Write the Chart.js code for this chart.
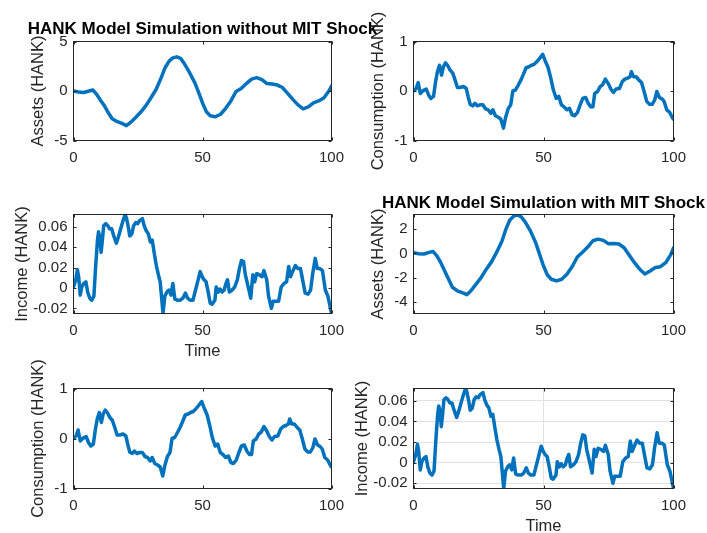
<!DOCTYPE html>
<html>
<head>
<meta charset="utf-8">
<title>HANK Model Simulation</title>
<script src="https://cdn.jsdelivr.net/npm/chart.js"></script>
<style>
  html, body { margin: 0; padding: 0; background: #fff; }
  #fig { position: relative; width: 707px; height: 533px; overflow: hidden; }
  #fig canvas { position: absolute; left: 0; top: 0; }
</style>
</head>
<body>
<div id="fig"></div>
<script>
// ---- tick labels ----
const timeTicks = [0, 50, 100];
const assetTicksNoShock = [-5, 0, 5];
const assetTicksShock = [-4, -2, 0, 2];
const consTicks = [-1, 0, 1];
const incTicks = [-0.02, 0, 0.02, 0.04, 0.06];

// ---- assets (smooth path) ----
const assetT = [
  0, 2, 4, 6, 7.5, 9, 10.5, 12, 13.5, 15,
  17, 19, 20.5, 22, 24, 26, 28, 30, 32, 34,
  35.5, 37, 38.5, 40, 41.5, 43, 45, 47, 48.5, 50,
  51.5, 53, 55, 57, 59, 61, 63, 65, 67, 69,
  71, 73, 75, 77, 79, 81, 83, 85, 87, 89,
  91, 93, 95, 97, 99, 100
];
const assetsNoShock = [
  0, -0.1, -0.15, 0, 0.1, -0.35, -0.95, -1.5, -2.2, -2.8,
  -3.1, -3.3, -3.5, -3.2, -2.7, -2.15, -1.5, -0.7, 0.15, 1.35,
  2.35, 3.0, 3.35, 3.45, 3.3, 2.75, 1.85, 0.85, -0.15, -1.2,
  -2.1, -2.5, -2.6, -2.35, -1.75, -1.0, -0.05, 0.25, 0.75, 1.2,
  1.35, 1.15, 0.75, 0.7, 0.6, 0.35, -0.25, -0.85, -1.4, -1.8,
  -1.6, -1.2, -1.0, -0.7, 0, 0.5
];
const assetsShock = [
  0.05, -0.03, -0.05, 0.08, 0.16, -0.2, -0.77, -1.45, -2.13, -2.8,
  -3.1, -3.25, -3.4, -3.1, -2.55, -2.0, -1.3, -0.7, 0.1, 1.0,
  1.97, 2.73, 3.06, 3.17, 3.0, 2.57, 1.83, 0.87, -0.08, -1.04,
  -1.78, -2.13, -2.27, -2.13, -1.72, -1.1, -0.3, 0.1, 0.52, 1.04,
  1.17, 1.07, 0.8, 0.82, 0.77, 0.46, -0.16, -0.77, -1.3, -1.7,
  -1.45, -1.17, -1.1, -0.77, -0.08, 0.46
];

// ---- consumption ----
const consT = [
  0, 1, 1.8, 2.6, 3.3, 4.1, 4.9, 5.8, 6.7, 7.7,
  8.5, 9.2, 10, 10.8, 11.5, 12.3, 13.1, 14.1, 15.1, 16,
  16.9, 17.9, 19.2, 20.3, 21, 21.8, 22.8, 23.6, 24.6, 25.6,
  26.7, 27.7, 28.7, 29.7, 30.5, 31.5, 32.6, 33.6, 34.6, 35.4,
  36.4, 37.4, 38.2, 39.2, 40.3, 41.3, 42.3, 43.3, 44.4, 45.4,
  46.4, 47.4, 48.5, 49.7, 50.8, 51.8, 52.8, 53.8, 54.9, 55.9,
  56.9, 57.9, 59, 60, 61, 62, 63.1, 64.1, 65.1, 66.2,
  67.2, 68.2, 69, 69.7, 70.8, 71.8, 72.8, 73.8, 74.9, 75.9,
  76.9, 77.9, 79.2, 80.3, 81.3, 82.3, 83.3, 83.8, 84.6, 85.6,
  86.7, 87.7, 88.7, 89.7, 90.8, 91.8, 92.8, 93.6, 94.6, 95.6,
  96.4, 97.4, 98.5, 99.7, 100
];
const consV = [
  0, 0.05, 0.17, -0.05, -0.01, 0.02, 0.04, -0.08, -0.15, -0.11,
  0.19, 0.39, 0.52, 0.32, 0.49, 0.57, 0.52, 0.42, 0.36, 0.22,
  0.07, 0.07, 0.09, 0.05, -0.11, -0.27, -0.3, -0.25, -0.3, -0.28,
  -0.28, -0.36, -0.38, -0.45, -0.38, -0.5, -0.53, -0.57, -0.75, -0.54,
  -0.36, -0.28, 0, 0.02, 0.12, 0.22, 0.34, 0.47, 0.49, 0.52,
  0.54, 0.59, 0.66, 0.74, 0.59, 0.47, 0.26, 0.02, -0.15, -0.11,
  -0.28, -0.32, -0.38, -0.35, -0.48, -0.5, -0.43, -0.28, -0.15, -0.13,
  -0.25, -0.32, -0.32, -0.05, -0.01, 0.09, 0.13, 0.24, 0.15, 0.04,
  -0.03, 0.04, 0.05, 0.19, 0.24, 0.26, 0.29, 0.39, 0.29, 0.29,
  0.22, 0.17, -0.01, -0.21, -0.27, -0.27, -0.18, -0.01, -0.13, -0.16,
  -0.21, -0.38, -0.43, -0.55, -0.57
];

// ---- income ----
const incT = [
  0, 0.9, 1.5, 2, 2.6, 3.2, 4, 4.8, 5.5, 6.3,
  7.1, 7.9, 8.6, 9.3, 9.7, 10.2, 10.7, 11.2, 11.7, 12.5,
  13.3, 14, 14.8, 15.6, 16.6, 17.4, 18.4, 19.2, 20, 20.5,
  21.3, 21.8, 22.6, 23.3, 24.1, 24.9, 25.6, 26.7, 27.4, 28.2,
  29, 29.8, 30.5, 31.3, 32.1, 32.9, 33.6, 34.1, 34.7, 35.4,
  36.2, 37, 37.8, 38.5, 39.3, 40.3, 41.4, 42.4, 43.4, 44.2,
  45.2, 46.3, 47.3, 48.3, 49.1, 49.9, 50.6, 51.4, 52.2, 53,
  53.7, 54.8, 55.3, 56.1, 56.8, 57.6, 58.4, 59.1, 59.7, 60.4,
  61.5, 62.5, 63.5, 64.3, 65.1, 65.9, 66.6, 67.7, 68.7, 69.5,
  70.2, 71, 72, 73.1, 73.8, 74.9, 75.6, 76.7, 77.4, 78.5,
  79.5, 80.5, 81.6, 82.6, 83.4, 84.1, 84.9, 86, 87, 88,
  88.8, 89.8, 90.9, 91.9, 92.7, 93.7, 94.5, 95.5, 96.5, 97.6,
  98.6, 99.6, 100
];
const incV = [
  0.001, 0.008, 0.018, 0.011, -0.007, 0.001, 0.0045, 0.006, -0.004, -0.010,
  -0.012, -0.008, 0.022, 0.047, 0.055, 0.050, 0.035, 0.047, 0.061, 0.063,
  0.061, 0.058, 0.058, 0.051, 0.044, 0.050, 0.059, 0.066, 0.072, 0.069,
  0.059, 0.051, 0.053, 0.061, 0.064, 0.063, 0.066, 0.068, 0.061, 0.056,
  0.053, 0.045, 0.047, 0.034, 0.022, 0.013, 0.006, -0.008, -0.025, -0.008,
  -0.004, -0.002, -0.007, 0.0045, -0.011, -0.012, -0.012, -0.010, -0.005, -0.010,
  -0.012, -0.012, -0.002, 0.008, 0.016, 0.011, 0.008, 0.006, -0.004, -0.015,
  -0.016, -0.012, 0.001, -0.004, -0.001, -0.004, -0.002, 0.0045, 0.008, -0.004,
  -0.002, 0.001, 0.008, 0.019, 0.027, 0.026, 0.013, 0.001, -0.010, 0.013,
  0.006, 0.014, 0.013, 0.011, 0.017, 0.008, -0.008, -0.020, -0.013, -0.013,
  -0.013, 0.001, 0.0045, 0.006, 0.021, 0.011, 0.016, 0.022, 0.019, 0.019,
  0.008, -0.005, -0.006, -0.002, 0.014, 0.029, 0.019, 0.019, 0.017, -0.002,
  -0.008, -0.020, -0.025
];

const FONT = '"Liberation Sans", Arial, Helvetica, sans-serif';
const INK = '#262626';
const LINE = '#0072BD';
const GRID = '#e2e2e2';
const W = 707, H = 533;
const YW = 60;   // fixed y-axis strip width
const XH = 44;   // fixed x-axis strip height
const TICK = 3;  // inward tick length

const COL_L = [73.5, 331.5], COL_R = [413.5, 673.5];
const ROW = [[41.5, 140.5], [214.5, 313.5], [388.5, 488.5]];

const panels = [
  { col: COL_L, row: ROW[0], t: assetT, v: assetsNoShock, yMin: -5, yMax: 5, yTicks: assetTicksNoShock,
    ylabel: 'Assets (HANK)', yOff: 35, title: 'HANK Model Simulation without MIT Shock', titleY: 33.5 },
  { col: COL_R, row: ROW[0], t: consT, v: consV, yMin: -1, yMax: 1, yTicks: consTicks,
    ylabel: 'Consumption (HANK)', yOff: 35 },
  { col: COL_L, row: ROW[1], t: incT, v: incV, yMin: -0.025, yMax: 0.072, yTicks: incTicks,
    ylabel: 'Income (HANK)', yOff: 51, xlabel: 'Time' },
  { col: COL_R, row: ROW[1], t: assetT, v: assetsShock, yMin: -4.95, yMax: 3.2, yTicks: assetTicksShock,
    ylabel: 'Assets (HANK)', yOff: 35, title: 'HANK Model Simulation with MIT Shock', titleY: 208 },
  { col: COL_L, row: ROW[2], t: consT, v: consV, yMin: -1, yMax: 1, yTicks: consTicks,
    ylabel: 'Consumption (HANK)', yOff: 35 },
  { col: COL_R, row: ROW[2], t: incT, v: incV, yMin: -0.025, yMax: 0.072, yTicks: incTicks,
    ylabel: 'Income (HANK)', yOff: 51, xlabel: 'Time', grid: true }
];

const fmt = v => String(+v.toFixed(3));

// box outline, inward ticks and bold title, drawn the way MATLAB axes look
const matlabAxes = {
  id: 'matlabAxes',
  afterDatasetsDraw(chart, args, opts) {
    const { ctx, chartArea: a, scales: { x, y } } = chart;
    ctx.save();
    ctx.strokeStyle = INK;
    ctx.lineWidth = 1;
    ctx.strokeRect(a.left, a.top, a.right - a.left, a.bottom - a.top);
    ctx.beginPath();
    timeTicks.forEach(v => {
      const px = Math.round(x.getPixelForValue(v)) + 0.5;
      ctx.moveTo(px, a.bottom); ctx.lineTo(px, a.bottom - TICK);
      ctx.moveTo(px, a.top); ctx.lineTo(px, a.top + TICK);
    });
    opts.yTicks.forEach(v => {
      const py = Math.round(y.getPixelForValue(v)) + 0.5;
      ctx.moveTo(a.left, py); ctx.lineTo(a.left + TICK, py);
      ctx.moveTo(a.right, py); ctx.lineTo(a.right - TICK, py);
    });
    ctx.stroke();
    if (opts.title) {
      ctx.fillStyle = '#000';
      ctx.font = 'bold 17px ' + FONT;
      ctx.textAlign = 'center';
      ctx.textBaseline = 'alphabetic';
      ctx.fillText(opts.title, (a.left + a.right) / 2, opts.titleY);
    }
    ctx.restore();
  }
};

const fig = document.getElementById('fig');

panels.forEach(p => {
  const canvas = document.createElement('canvas');
  canvas.width = W;
  canvas.height = H;
  fig.appendChild(canvas);

  const [l, r] = p.col;
  const [t, b] = p.row;
  const labelFont = { family: FONT, size: 16.5, lineHeight: 1 };

  new Chart(canvas, {
    type: 'line',
    data: {
      datasets: [{
        data: p.t.map((tt, i) => ({ x: tt, y: p.v[i] })),
        borderColor: LINE,
        borderWidth: 3.5,
        borderJoinStyle: 'round',
        borderCapStyle: 'round',
        pointRadius: 0,
        tension: 0,
        fill: false
      }]
    },
    options: {
      responsive: false,
      animation: false,
      events: [],
      devicePixelRatio: 1,
      layout: { padding: { left: l - YW, top: t, right: W - r, bottom: H - b - XH } },
      plugins: {
        legend: { display: false },
        tooltip: { enabled: false },
        matlabAxes: { yTicks: p.yTicks, title: p.title, titleY: p.titleY }
      },
      scales: {
        x: {
          type: 'linear', min: 0, max: 100,
          afterBuildTicks: s => { s.ticks = timeTicks.map(value => ({ value })); },
          afterFit: s => { s.height = XH; },
          grid: { display: !!p.grid, drawTicks: false, color: GRID },
          border: { display: false },
          ticks: { padding: 8, color: INK, font: { family: FONT, size: 15 }, maxRotation: 0, autoSkip: false, callback: fmt },
          title: {
            display: !!p.xlabel, text: p.xlabel || '', color: INK, font: labelFont,
            padding: { top: 0, bottom: XH - 8.25 - 37.8 }
          }
        },
        y: {
          type: 'linear', min: p.yMin, max: p.yMax,
          afterBuildTicks: s => { s.ticks = p.yTicks.map(value => ({ value })); },
          afterFit: s => { s.width = YW; },
          grid: { display: !!p.grid, drawTicks: false, color: GRID },
          border: { display: false },
          ticks: { padding: 6, color: INK, font: { family: FONT, size: 15 }, autoSkip: false, callback: fmt },
          title: {
            display: true, text: p.ylabel, color: INK, font: labelFont,
            padding: { top: YW - p.yOff - 8.25, bottom: 0 }
          }
        }
      }
    },
    plugins: [matlabAxes]
  });
});
</script>
</body>
</html>
